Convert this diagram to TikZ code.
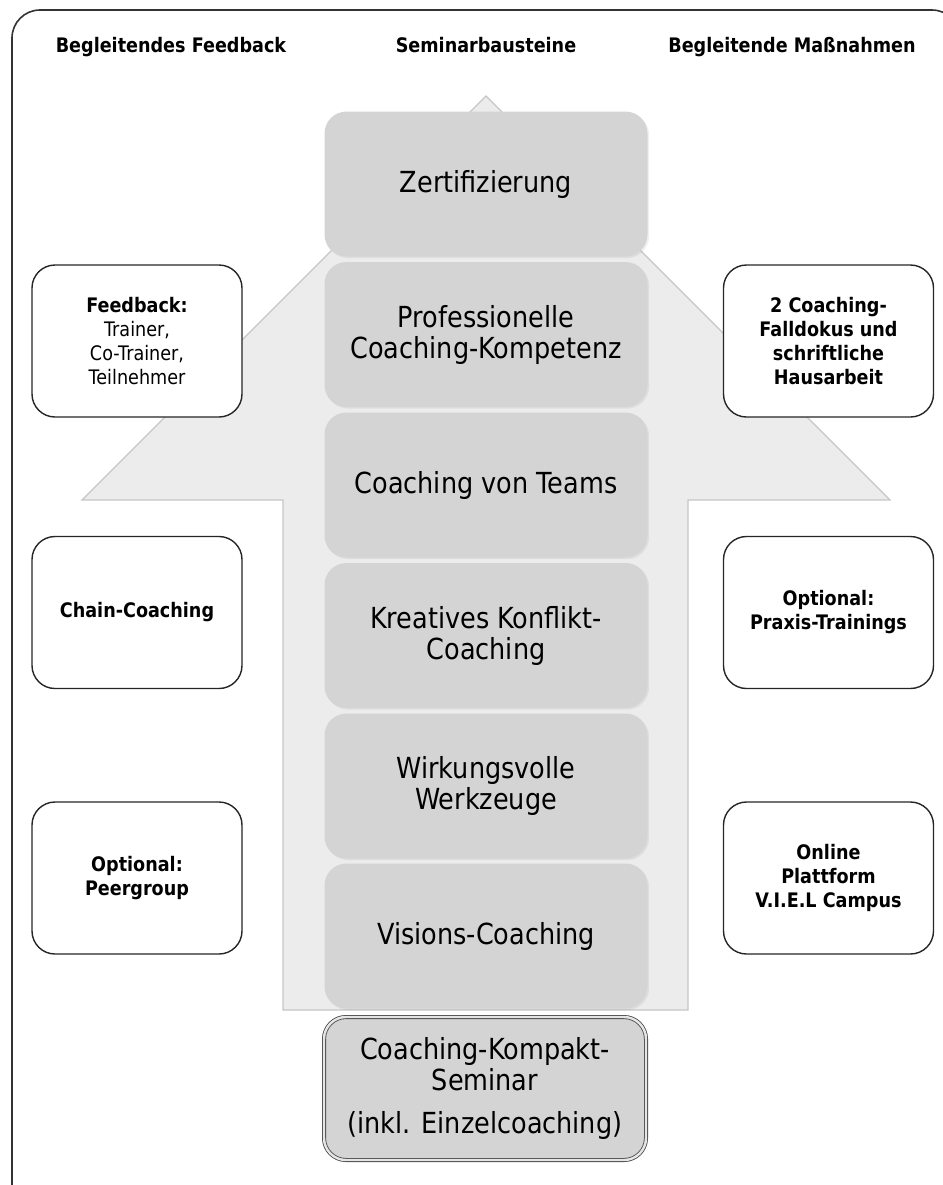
\documentclass[tikz,border=0pt]{standalone}
\usepackage{fontspec}
\setmainfont{DejaVu Sans}[FakeStretch=0.88]
\usetikzlibrary{shadows}
\definecolor{arrowgray}{RGB}{236,236,236}
\definecolor{stepgray}{RGB}{212,212,212}
\tikzset{
    header/.style={font=\bfseries\fontsize{10}{12}\selectfont, anchor=base},
    stepbox/.style={fill=stepgray, rounded corners=11pt, minimum width=161.5pt,
        minimum height=72.5pt, align=center, font=\fontsize{14.5}{15.5}\selectfont,
        drop shadow={shadow xshift=0.8pt, shadow yshift=-0.8pt, opacity=0.12}},
    sidebox/.style={draw=black!85, line width=0.7pt, fill=white, rounded corners=11.5pt,
        minimum width=105pt, minimum height=76pt, align=center,
        font=\fontsize{10}{12}\selectfont}
}

\begin{document}
\begin{tikzpicture}[x=0.5pt, y=-0.5pt]
    \useasboundingbox (0,0) rectangle (943,1185);

    % Frame
    \draw[black!80, line width=0.8pt, rounded corners=14pt] (12,10) rectangle (960,1213);

    % Column headers
    \node[header] (hfeedback) at (171,52) {Begleitendes Feedback};
    \node[header] (hbausteine) at (486,52) {Seminarbausteine};
    \node[header] (hmassnahmen) at (792,52) {Begleitende Maßnahmen};

    % Big arrow behind the modules
    \fill[arrowgray, draw=gray!45, line width=0.6pt]
        (283,1010) -- (283,500) -- (82,500) -- (486,96) -- (890,500)
        -- (688,500) -- (688,1010) -- cycle;

    % Seminar modules
    \node[stepbox] (zert) at (486,184) {Zertifizierung};
    \node[stepbox] (prof) at (486,334.5) {Professionelle\\Coaching-Kompetenz};
    \node[stepbox] (teams) at (486,485) {Coaching von Teams};
    \node[stepbox] (konflikt) at (486,635.5) {Kreatives Konflikt-\\Coaching};
    \node[stepbox] (werkzeuge) at (486,786) {Wirkungsvolle\\Werkzeuge};
    \node[stepbox] (visions) at (486,936) {Visions-Coaching};

    % Basis seminar
    \node[stepbox, minimum width=161pt, minimum height=71.5pt, draw=gray!55!black,
        double=gray!20, double distance=1.2pt]
        (kompakt) at (485,1088.5) {Coaching-Kompakt-\\Seminar\\[6pt](inkl. Einzelcoaching)};

    % Feedback (left)
    \node[sidebox] (feedback) at (137,341) {\textbf{Feedback:}\\Trainer,\\Co-Trainer,\\Teilnehmer};
    \node[sidebox] (chain) at (137,612.5) {\textbf{Chain-Coaching}};
    \node[sidebox] (peer) at (137,878) {\textbf{Optional:}\\\textbf{Peergroup}};

    % Measures (right)
    \node[sidebox, font=\bfseries\fontsize{10}{12}\selectfont] (falldoku) at (828.5,341)
        {2 Coaching-\\Falldokus und\\schriftliche\\Hausarbeit};
    \node[sidebox, font=\bfseries\fontsize{10}{12}\selectfont] (praxis) at (828.5,612.5)
        {Optional:\\Praxis-Trainings};
    \node[sidebox, font=\bfseries\fontsize{10}{12}\selectfont] (online) at (828.5,878)
        {Online\\Plattform\\V.I.E.L Campus};
\end{tikzpicture}
\end{document}
